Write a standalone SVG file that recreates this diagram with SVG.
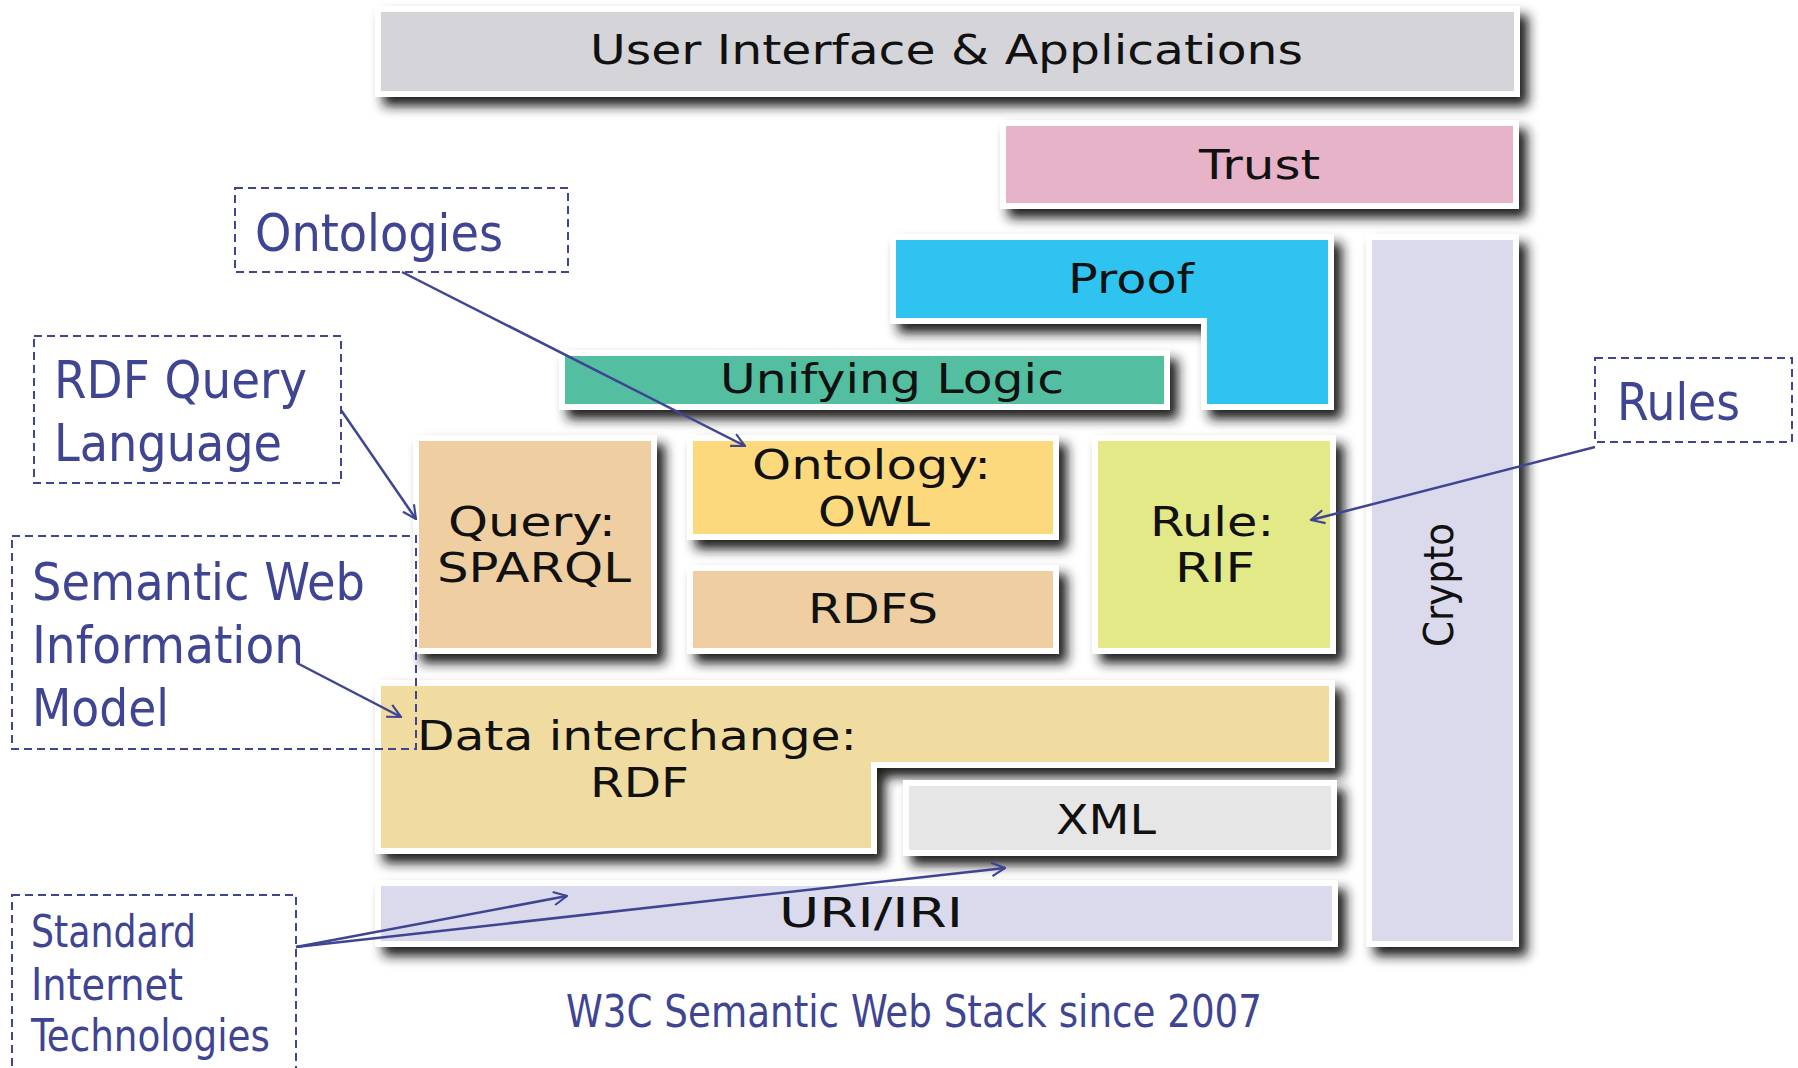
<svg xmlns="http://www.w3.org/2000/svg" width="1798" height="1068" viewBox="0 0 1798 1068">
<defs>
<filter id="sh" x="-10%" y="-30%" width="130%" height="180%">
<feDropShadow dx="8" dy="9" stdDeviation="6" flood-color="#1e1e1e" flood-opacity="1"/>
</filter>
<marker id="ah" viewBox="0 0 12 12" refX="11" refY="6" markerWidth="16" markerHeight="16" markerUnits="userSpaceOnUse" orient="auto">
<path d="M1,1 L11,6 L1,11" fill="none" stroke="#3F4593" stroke-width="1.6"/>
</marker>
</defs>
<style>
.box{stroke:#ffffff;stroke-width:6;filter:url(#sh)}
.lbl{font-family:"DejaVu Sans","Verdana",sans-serif;font-size:40px;fill:#111111}
.ann{font-family:"DejaVu Sans Condensed","DejaVu Sans",sans-serif;font-size:52px;fill:#3F4593}
.ann2{font-family:"DejaVu Sans Condensed","DejaVu Sans",sans-serif;font-size:44px;fill:#3F4593}
.dash{fill:none;stroke:#3F4593;stroke-width:2;stroke-dasharray:8 5}
.conn{fill:none;stroke:#3F4593;stroke-width:2.5;marker-end:url(#ah)}
</style>
<rect width="1798" height="1068" fill="#ffffff"/>

<g id="ui"><rect class="box" x="378" y="9" width="1139" height="85" fill="#D4D4D9"/>
<text class="lbl" x="590" y="64" textLength="713" lengthAdjust="spacingAndGlyphs">User Interface &amp; Applications</text></g>

<g id="trust"><rect class="box" x="1003" y="123" width="513" height="83" fill="#E6B3C8"/>
<text class="lbl" x="1199" y="179" textLength="121" lengthAdjust="spacingAndGlyphs">Trust</text></g>

<g id="crypto"><rect class="box" x="1369" y="237" width="147" height="707" fill="#DADAEC"/>
<text class="lbl" x="1453" y="585" text-anchor="middle" transform="rotate(-90 1453 585)" textLength="124" lengthAdjust="spacingAndGlyphs">Crypto</text></g>

<g id="proof"><path class="box" d="M893,237 H1331 V407 H1204 V321 H893 Z" fill="#2DC4EF"/>
<text class="lbl" x="1068" y="293" textLength="126" lengthAdjust="spacingAndGlyphs">Proof</text></g>

<g id="logic"><rect class="box" x="562" y="353" width="605" height="54" fill="#52BFA0"/>
<text class="lbl" x="720" y="393" textLength="344" lengthAdjust="spacingAndGlyphs">Unifying Logic</text></g>

<g id="query"><rect class="box" x="416" y="438" width="238" height="213" fill="#EFCFA1"/>
<text class="lbl" x="448" y="536" textLength="168" lengthAdjust="spacingAndGlyphs">Query:</text>
<text class="lbl" x="437" y="582" textLength="194" lengthAdjust="spacingAndGlyphs">SPARQL</text></g>

<g id="owl"><rect class="box" x="690" y="438" width="366" height="99" fill="#FDD97D"/>
<text class="lbl" x="752" y="479" textLength="239" lengthAdjust="spacingAndGlyphs">Ontology:</text>
<text class="lbl" x="818" y="526" textLength="112" lengthAdjust="spacingAndGlyphs">OWL</text></g>

<g id="rdfs"><rect class="box" x="690" y="568" width="366" height="83" fill="#EFCFA1"/>
<text class="lbl" x="808" y="623" textLength="130" lengthAdjust="spacingAndGlyphs">RDFS</text></g>

<g id="rif"><rect class="box" x="1095" y="438" width="238" height="213" fill="#E4E987"/>
<text class="lbl" x="1150" y="536" textLength="124" lengthAdjust="spacingAndGlyphs">Rule:</text>
<text class="lbl" x="1175" y="582" textLength="80" lengthAdjust="spacingAndGlyphs">RIF</text></g>

<g id="rdf"><path class="box" d="M378,683 H1332 V765 H874 V851 H378 Z" fill="#F0DCA0"/>
<text class="lbl" x="417" y="750" textLength="440" lengthAdjust="spacingAndGlyphs">Data interchange:</text>
<text class="lbl" x="590" y="797" textLength="99" lengthAdjust="spacingAndGlyphs">RDF</text></g>

<g id="xml"><rect class="box" x="906" y="783" width="428" height="70" fill="#E6E6E6"/>
<text class="lbl" x="1056" y="834" textLength="100" lengthAdjust="spacingAndGlyphs">XML</text></g>

<g id="uri"><rect class="box" x="378" y="883" width="957" height="61" fill="#DADAEC"/>
<text class="lbl" x="779" y="927" textLength="184" lengthAdjust="spacingAndGlyphs">URI/IRI</text></g>

<g id="ann-ontologies"><rect class="dash" x="235" y="188" width="333" height="84"/>
<text class="ann" x="255" y="251" textLength="248" lengthAdjust="spacingAndGlyphs">Ontologies</text></g>

<g id="ann-rdfquery"><rect class="dash" x="34" y="336" width="307" height="147"/>
<text class="ann" x="54" y="398" textLength="253" lengthAdjust="spacingAndGlyphs">RDF Query</text>
<text class="ann" x="54" y="461" textLength="228" lengthAdjust="spacingAndGlyphs">Language</text></g>

<g id="ann-swim"><rect class="dash" x="12" y="536" width="404" height="213"/>
<text class="ann" x="32" y="600" textLength="333" lengthAdjust="spacingAndGlyphs">Semantic Web</text>
<text class="ann" x="32" y="663" textLength="272" lengthAdjust="spacingAndGlyphs">Information</text>
<text class="ann" x="32" y="726" textLength="137" lengthAdjust="spacingAndGlyphs">Model</text></g>

<g id="ann-rules"><rect class="dash" x="1595" y="358" width="197" height="84"/>
<text class="ann" x="1617" y="420" textLength="123" lengthAdjust="spacingAndGlyphs">Rules</text></g>

<g id="ann-sit"><rect class="dash" x="12" y="895" width="284" height="185"/>
<text class="ann2" x="31" y="947" textLength="165" lengthAdjust="spacingAndGlyphs">Standard</text>
<text class="ann2" x="31" y="1000" textLength="152" lengthAdjust="spacingAndGlyphs">Internet</text>
<text class="ann2" x="31" y="1051" textLength="239" lengthAdjust="spacingAndGlyphs">Technologies</text></g>

<g id="caption"><text class="ann2" x="566" y="1027" font-size="42" textLength="696" lengthAdjust="spacingAndGlyphs">W3C Semantic Web Stack since 2007</text></g>

<g id="connectors">
<line class="conn" x1="402" y1="272" x2="745" y2="446"/>
<line class="conn" x1="341" y1="410" x2="416" y2="519"/>
<line class="conn" x1="297" y1="663" x2="401" y2="717"/>
<line class="conn" x1="1595" y1="447" x2="1311" y2="520"/>
<line class="conn" x1="296" y1="947" x2="567" y2="896"/>
<line class="conn" x1="296" y1="947" x2="1005" y2="868"/>
</g>
</svg>
